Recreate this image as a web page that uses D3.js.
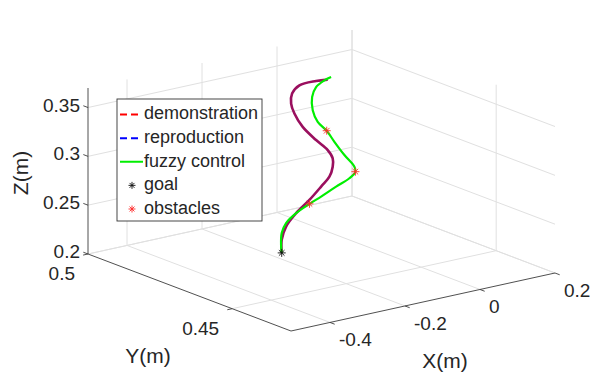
<!DOCTYPE html>
<html>
<head>
<meta charset="utf-8">
<script src="https://cdn.jsdelivr.net/npm/d3@7"></script>
<style>
  body { margin: 0; background: #fff; }
  text { font-family: "Liberation Sans", Arial, sans-serif; fill: #262626; }
</style>
</head>
<body>
<svg id="chart"></svg>
<script>
// axis limits and ticks
const xDomain = [-0.504, 0.2];
const yDomain = [0.4296, 0.5];
const zDomain = [0.2, 0.37];
const xTicks = [-0.4, -0.2, 0, 0.2];
const yTicks = [0.45, 0.5];
const zTicks = [0.2, 0.25, 0.3, 0.35];

// demonstration / reproduction (overlapping, drawn as one trajectory)
const demoX = [-0.0493, -0.0803, -0.1248, -0.1443, -0.1469, -0.1381, -0.116, -0.0803, -0.0493,
  -0.036, -0.036, -0.0448, -0.0669, -0.0981, -0.1336, -0.1603, -0.172, -0.172];
const demoY = [0.476, 0.476, 0.476, 0.476, 0.476, 0.476, 0.476, 0.476, 0.476,
  0.476, 0.476, 0.476, 0.476, 0.476, 0.476, 0.476, 0.476, 0.476];
const demoZ = [0.3671, 0.3683, 0.3676, 0.3608, 0.3508, 0.3399, 0.3243, 0.3078, 0.2949,
  0.2854, 0.2768, 0.2673, 0.259, 0.248, 0.2374, 0.226, 0.2134, 0.2];

// fuzzy control trajectory
const fuzzyX = [-0.0403, -0.0581, -0.0803, -0.0909, -0.0893, -0.076, -0.052, -0.0315, -0.0048, 0.0219,
  0.0245, 0.0085, -0.0269, -0.0669, -0.0981, -0.1336, -0.1603, -0.172, -0.1736, -0.172];
const fuzzyY = [0.476, 0.476, 0.476, 0.476, 0.476, 0.476, 0.476, 0.476, 0.476, 0.476,
  0.476, 0.476, 0.476, 0.476, 0.476, 0.476, 0.476, 0.476, 0.476, 0.476];
const fuzzyZ = [0.369, 0.3671, 0.3621, 0.3528, 0.3391, 0.3261, 0.3149, 0.3019, 0.2861, 0.2719,
  0.2666, 0.2612, 0.2556, 0.2488, 0.2439, 0.2374, 0.2295, 0.2203, 0.2067, 0.2];

const goalX = [-0.172], goalY = [0.476], goalZ = [0.2];
const obsX = [-0.052, 0.0245, -0.098];
const obsY = [0.476, 0.476, 0.476];
const obsZ = [0.315, 0.2666, 0.244];

const legendItems = ['demonstration', 'reproduction', 'fuzzy control', 'goal', 'obstacles'];

const width = 592, height = 379;
const svg = d3.select('#chart').attr('width', width).attr('height', height);

/* Scales: data -> unit box */
const xScale = d3.scaleLinear().domain(xDomain).range([0, 1]);
const yScale = d3.scaleLinear().domain(yDomain).range([0, 1]);
const zScale = d3.scaleLinear().domain(zDomain).range([0, 1]);

// screen position of box corner (xmin, ymin, zmin) and the three box edges
const origin = [291, 331];
const ex = [264, -58], ey = [-203, -77], ez = [0, -166];

function proj(x, y, z) {
  const a = xScale(x), b = yScale(y), c = zScale(z);
  return [origin[0] + a * ex[0] + b * ey[0] + c * ez[0],
          origin[1] + a * ex[1] + b * ey[1] + c * ez[1]];
}

const fmt = t => String(t);  // plain hyphen minus, like the original

const [x0, x1] = xDomain, [y0, y1] = yDomain, [z0, z1] = zDomain;
const gridColor = '#e0e0e0';
const axisColor = '#3c3c3c';

function seg(g, p, q, color, w) {
  g.append('line')
    .attr('x1', p[0]).attr('y1', p[1]).attr('x2', q[0]).attr('y2', q[1])
    .attr('stroke', color).attr('stroke-width', w);
}

/* Grid */
const grid = svg.append('g').attr('class', 'grid');
xTicks.forEach(t => {
  seg(grid, proj(t, y0, z0), proj(t, y1, z0), gridColor, 1);  // floor
  seg(grid, proj(t, y1, z0), proj(t, y1, z1), gridColor, 1);  // back wall y = ymax
});
yTicks.forEach(t => {
  seg(grid, proj(x0, t, z0), proj(x1, t, z0), gridColor, 1);  // floor
  seg(grid, proj(x1, t, z0), proj(x1, t, z1), gridColor, 1);  // back wall x = xmax
});
zTicks.forEach(t => {
  seg(grid, proj(x0, y1, t), proj(x1, y1, t), gridColor, 1);
  seg(grid, proj(x1, y0, t), proj(x1, y1, t), gridColor, 1);
});

/* Axes */
const axes = svg.append('g').attr('class', 'axes');
seg(axes, proj(x0, y0, z0), proj(x1, y0, z0), axisColor, 0.9);
seg(axes, proj(x0, y0, z0), proj(x0, y1, z0), axisColor, 0.9);
seg(axes, proj(x0, y1, z0), proj(x0, y1, z1), axisColor, 0.9);

const tickLen = 5;
const tickFont = '19px';
xTicks.forEach(t => {
  const p = proj(t, y0, z0);
  seg(axes, p, [p[0] + 0.935 * tickLen, p[1] + 0.355 * tickLen], axisColor, 0.9);
  axes.append('text')
    .attr('x', p[0] + 9).attr('y', p[1] + 19)
    .attr('dominant-baseline', 'middle')
    .style('font-size', tickFont)
    .text(fmt(t));
});
yTicks.forEach(t => {
  const p = proj(x0, t, z0);
  seg(axes, p, [p[0] - 0.977 * tickLen, p[1] + 0.215 * tickLen], axisColor, 0.9);
  axes.append('text')
    .attr('x', p[0] - 13).attr('y', p[1] + 21)
    .attr('text-anchor', 'end')
    .attr('dominant-baseline', 'middle')
    .style('font-size', tickFont)
    .text(fmt(t));
});
zTicks.forEach(t => {
  const p = proj(x0, y1, t);
  seg(axes, p, [p[0] - 0.935 * tickLen, p[1] - 0.355 * tickLen], axisColor, 0.9);
  axes.append('text')
    .attr('x', p[0] - 8).attr('y', p[1] - 1)
    .attr('text-anchor', 'end')
    .attr('dominant-baseline', 'middle')
    .style('font-size', tickFont)
    .text(fmt(t));
});

axes.append('text').attr('x', 445).attr('y', 362)
  .attr('text-anchor', 'middle').attr('dominant-baseline', 'middle')
  .style('font-size', '21px').text('X(m)');
axes.append('text').attr('x', 148).attr('y', 357)
  .attr('text-anchor', 'middle').attr('dominant-baseline', 'middle')
  .style('font-size', '21px').text('Y(m)');
axes.append('text')
  .attr('transform', 'translate(22,173) rotate(-90)')
  .attr('text-anchor', 'middle').attr('dominant-baseline', 'middle')
  .style('font-size', '21px').text('Z(m)');

/* Trajectories */
const line = d3.line()
  .x(d => proj(d[0], d[1], d[2])[0])
  .y(d => proj(d[0], d[1], d[2])[1])
  .curve(d3.curveCatmullRom.alpha(0.5));

const demo = demoX.map((x, i) => [x, demoY[i], demoZ[i]]);
const fuzzy = fuzzyX.map((x, i) => [x, fuzzyY[i], fuzzyZ[i]]);

svg.append('path')
  .attr('d', line(demo))
  .attr('fill', 'none')
  .attr('stroke', '#9a0f5e')
  .attr('stroke-width', 2.6);

svg.append('path')
  .attr('d', line(fuzzy))
  .attr('fill', 'none')
  .attr('stroke', '#00ee00')
  .attr('stroke-width', 2.2);

function star(g, cx, cy, r, color) {
  const s = g.append('g').attr('stroke', color).attr('stroke-width', 0.9);
  [[r, 0], [0, r], [r * 0.7, r * 0.7], [r * 0.7, -r * 0.7]].forEach(v => {
    s.append('line')
      .attr('x1', cx - v[0]).attr('y1', cy - v[1])
      .attr('x2', cx + v[0]).attr('y2', cy + v[1]);
  });
}

const marks = svg.append('g');
obsX.forEach((x, i) => {
  const p = proj(x, obsY[i], obsZ[i]);
  star(marks, p[0], p[1], 4, '#ff2a2a');
});
goalX.forEach((x, i) => {
  const p = proj(x, goalY[i], goalZ[i]);
  star(marks, p[0], p[1], 4, '#111');
});

/* Legend */
const legend = svg.append('g').attr('transform', 'translate(117,99)');
legend.append('rect')
  .attr('width', 145).attr('height', 122)
  .attr('fill', '#fff').attr('stroke', '#333').attr('stroke-width', 0.9);

const rowY = d3.scaleLinear().domain([0, 4]).range([15.5, 110]);
legendItems.forEach((name, i) => {
  const y = rowY(i);
  if (i === 0 || i === 1) {
    legend.append('line')
      .attr('x1', 3).attr('x2', 22).attr('y1', y).attr('y2', y)
      .attr('stroke', i === 0 ? '#ff0000' : '#0000ff')
      .attr('stroke-width', 2)
      .attr('stroke-dasharray', '7,4');
  } else if (i === 2) {
    legend.append('line')
      .attr('x1', 3).attr('x2', 26).attr('y1', y).attr('y2', y)
      .attr('stroke', '#00ee00').attr('stroke-width', 2);
  } else {
    star(legend, 15, y, 3.5, i === 3 ? '#111' : '#ff2a2a');
  }
  legend.append('text')
    .attr('x', 27).attr('y', y)
    .attr('dominant-baseline', 'middle')
    .style('font-size', '18px')
    .text(name);
});
</script>
</body>
</html>
